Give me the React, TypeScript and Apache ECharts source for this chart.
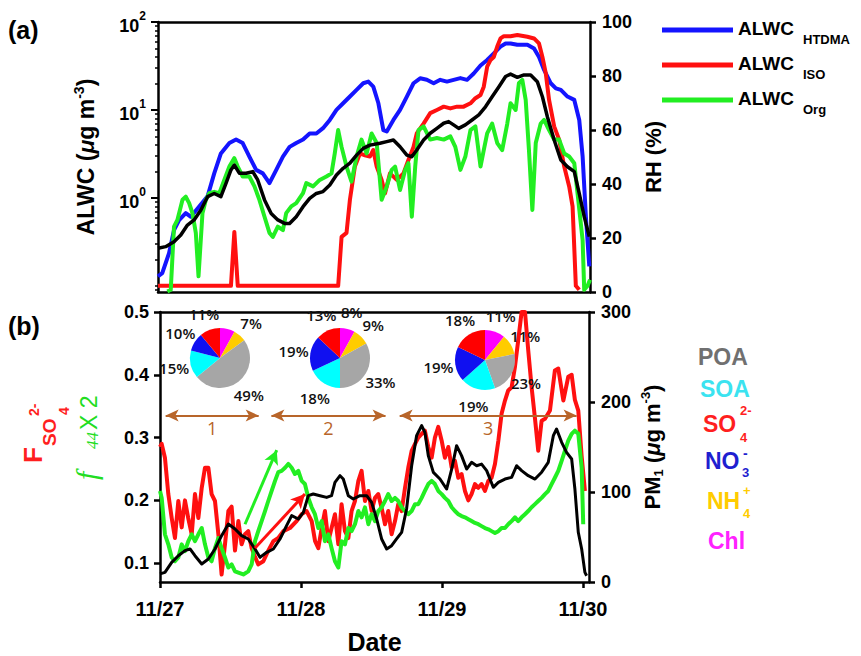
import { useEffect, useRef } from 'react';
import * as echarts from 'echarts';

const FONT = '"Liberation Sans", Arial, sans-serif';
const PIE_FONT = '"Open Sans", "Noto Sans", sans-serif';

// ---- axis ticks / labels ----
const dateTicks = [0, 1, 2, 3];
const dateLabels = ['11/27', '11/28', '11/29', '11/30'];
const logMajorTicks = [1, 10, 100];
const logMinorTicks = [0.09, 0.1, 0.2, 0.3, 0.4, 0.5, 0.6, 0.7, 0.8, 0.9, 2, 3, 4, 5, 6, 7, 8, 9, 20, 30, 40, 50, 60, 70, 80, 90];
const fracTicks = [0.1, 0.2, 0.3, 0.4, 0.5];

// ---- (a) ALWC (ug m-3), x = days since 11/27 00:00 ----
const alwcHtdma = [[0,0.128],[0.03,0.139],[0.078,0.235],[0.113,0.43],[0.149,0.56],[0.196,0.67],[0.232,0.61],[0.291,0.8],[0.35,1.04],[0.397,1.9],[0.444,3.2],[0.504,4.2],[0.551,4.6],[0.598,4.2],[0.645,2.95],[0.693,2.08],[0.74,1.9],[0.787,1.47],[0.835,2.08],[0.882,2.95],[0.929,3.8],[0.976,4.2],[1.024,4.6],[1.071,5.4],[1.118,5.4],[1.165,6.2],[1.213,7.7],[1.26,10],[1.307,11.9],[1.355,14.2],[1.402,16.9],[1.449,20.1],[1.485,21],[1.52,18.4],[1.556,11.9],[1.591,5.9],[1.615,5.7],[1.662,7.7],[1.709,10],[1.757,14.2],[1.804,20.1],[1.851,22.9],[1.898,22],[1.946,20.1],[1.993,22],[2.04,21],[2.087,22],[2.135,23],[2.182,22],[2.229,26],[2.277,32],[2.324,37],[2.371,44],[2.418,52.5],[2.454,57],[2.489,57],[2.537,55],[2.608,55],[2.655,50],[2.69,40],[2.726,28.5],[2.773,20.1],[2.809,17.6],[2.844,16.9],[2.891,14.2],[2.939,13],[2.974,7.7],[2.998,2.95],[3.021,0.61],[3.045,0.166]];
const alwcIso = [[0,0.1],[0.515,0.1],[0.539,0.41],[0.563,0.1],[1.272,0.1],[1.296,0.36],[1.331,0.4],[1.355,0.95],[1.39,2.27],[1.426,3.2],[1.461,3.05],[1.496,2.95],[1.52,3.5],[1.544,2.27],[1.579,1.6],[1.603,1.13],[1.638,1.9],[1.686,1.6],[1.733,1.9],[1.768,2.7],[1.804,3.8],[1.827,5.4],[1.875,7.0],[1.922,9.2],[1.969,10],[2.017,10.9],[2.064,10.4],[2.111,10.9],[2.158,10.9],[2.206,11.9],[2.241,13.6],[2.277,14.8],[2.3,18.4],[2.324,31],[2.348,37],[2.371,40],[2.395,52.5],[2.418,65],[2.442,69],[2.489,69],[2.537,71],[2.608,68],[2.655,65],[2.69,57],[2.714,40],[2.738,26],[2.761,13],[2.797,6.5],[2.832,4.6],[2.868,2.27],[2.903,1.35],[2.927,0.8],[2.95,0.1],[2.974,0.09]];
const alwcOrg = [[0.066,0.086],[0.09,0.09],[0.113,0.47],[0.137,0.56],[0.173,0.95],[0.196,1.03],[0.22,0.87],[0.243,0.67],[0.267,0.4],[0.286,0.128],[0.314,0.67],[0.338,0.95],[0.362,1.13],[0.397,1.17],[0.433,1.13],[0.468,1.6],[0.504,2.27],[0.539,2.83],[0.563,2.27],[0.598,1.75],[0.645,1.75],[0.681,1.35],[0.716,0.95],[0.752,0.61],[0.787,0.4],[0.811,0.36],[0.846,0.47],[0.882,0.43],[0.905,0.67],[0.941,0.8],[0.976,0.87],[1.024,1.13],[1.047,1.47],[1.095,1.35],[1.142,1.6],[1.189,1.75],[1.225,1.9],[1.248,3.2],[1.272,5.9],[1.296,3.8],[1.331,2.27],[1.366,1.53],[1.402,2.95],[1.437,4.6],[1.473,3.2],[1.508,5.4],[1.544,4.2],[1.579,0.95],[1.615,1.35],[1.65,2.08],[1.674,2.27],[1.709,1.23],[1.745,2.08],[1.768,2.48],[1.792,0.61],[1.816,2.27],[1.839,5.9],[1.875,6.5],[1.922,4.6],[1.969,4.8],[2.017,4.6],[2.064,5.0],[2.099,3.8],[2.135,2.08],[2.17,2.95],[2.206,5.9],[2.241,6.5],[2.277,2.27],[2.3,3.5],[2.324,5.4],[2.359,7.0],[2.395,4.2],[2.43,3.5],[2.466,7.0],[2.489,11.9],[2.525,10],[2.548,20.1],[2.572,22],[2.596,13],[2.619,3.5],[2.643,0.73],[2.667,4.2],[2.702,7.0],[2.726,7.7],[2.761,5.9],[2.797,4.6],[2.832,4.6],[2.868,3.2],[2.903,2.95],[2.939,2.48],[2.962,1.13],[2.998,0.33],[3.009,0.09],[3.033,0.1],[3.05,0.117]];
// RH (%)
const rh = [[0,16.2],[0.054,16.8],[0.113,18.6],[0.161,21.1],[0.208,24.8],[0.255,26.7],[0.303,30.4],[0.35,35.3],[0.397,36.5],[0.444,35.3],[0.48,40.2],[0.515,45.2],[0.539,47],[0.574,44],[0.622,44],[0.669,44.6],[0.704,41.5],[0.752,34.1],[0.799,29.1],[0.846,26.7],[0.894,25.4],[0.929,25.4],[0.976,27.9],[1.024,31.6],[1.071,34.7],[1.118,36.5],[1.165,37.2],[1.213,39.6],[1.26,43.3],[1.307,45.8],[1.355,47.7],[1.402,50.7],[1.449,53.2],[1.496,54.4],[1.567,55.1],[1.615,55.7],[1.662,56.3],[1.709,53.8],[1.757,50.7],[1.792,50.1],[1.827,52.6],[1.875,56.3],[1.922,58.8],[1.969,60.6],[2.017,62.5],[2.052,63.1],[2.087,61.9],[2.123,60.6],[2.17,61.9],[2.217,63.7],[2.265,65.6],[2.312,68.6],[2.359,72.3],[2.407,76],[2.454,79.8],[2.489,80.7],[2.537,79.5],[2.584,80.4],[2.631,80.4],[2.678,77.9],[2.714,72.3],[2.749,64.9],[2.797,56.3],[2.844,48.9],[2.891,46.4],[2.939,44.6],[2.974,36.5],[3.009,27.9],[3.045,20.5]];

// ---- (b) ----
const fSO4 = [[0,0.285],[0.012,0.29],[0.035,0.268],[0.059,0.21],[0.083,0.172],[0.106,0.14],[0.13,0.199],[0.154,0.157],[0.177,0.2],[0.2,0.172],[0.225,0.146],[0.248,0.21],[0.272,0.172],[0.296,0.22],[0.319,0.252],[0.343,0.252],[0.366,0.21],[0.39,0.199],[0.414,0.146],[0.437,0.082],[0.461,0.13],[0.485,0.183],[0.508,0.19],[0.532,0.12],[0.556,0.167],[0.579,0.13],[0.603,0.146],[0.626,0.151],[0.65,0.124],[0.674,0.11],[0.697,0.098],[0.733,0.103],[0.768,0.12],[0.804,0.135],[0.839,0.14],[0.875,0.151],[0.922,0.156],[0.969,0.167],[1.005,0.178],[1.04,0.183],[1.076,0.167],[1.1,0.135],[1.123,0.124],[1.147,0.156],[1.17,0.183],[1.194,0.135],[1.217,0.156],[1.241,0.178],[1.265,0.13],[1.288,0.194],[1.312,0.151],[1.336,0.14],[1.359,0.183],[1.383,0.199],[1.407,0.231],[1.43,0.247],[1.454,0.199],[1.478,0.215],[1.501,0.183],[1.525,0.204],[1.548,0.21],[1.572,0.188],[1.596,0.162],[1.619,0.183],[1.643,0.146],[1.667,0.167],[1.69,0.194],[1.714,0.183],[1.738,0.22],[1.761,0.252],[1.785,0.279],[1.809,0.29],[1.832,0.3],[1.856,0.306],[1.879,0.311],[1.903,0.285],[1.927,0.268],[1.95,0.3],[1.974,0.317],[1.998,0.295],[2.021,0.268],[2.045,0.285],[2.069,0.252],[2.092,0.263],[2.116,0.236],[2.139,0.242],[2.163,0.215],[2.187,0.2],[2.21,0.21],[2.234,0.226],[2.258,0.22],[2.281,0.226],[2.305,0.215],[2.329,0.231],[2.352,0.236],[2.376,0.258],[2.4,0.295],[2.423,0.338],[2.447,0.359],[2.47,0.375],[2.494,0.38],[2.518,0.413],[2.541,0.455],[2.565,0.5],[2.589,0.5],[2.612,0.439],[2.636,0.38],[2.66,0.33],[2.683,0.279],[2.707,0.327],[2.731,0.33],[2.766,0.343],[2.801,0.407],[2.825,0.41],[2.861,0.359],[2.896,0.397],[2.92,0.4],[2.943,0.36],[2.967,0.343],[2.991,0.27],[3.014,0.215]];
const f44x2 = [[0,0.215],[0.012,0.204],[0.035,0.146],[0.059,0.13],[0.083,0.109],[0.106,0.103],[0.13,0.109],[0.154,0.13],[0.177,0.119],[0.201,0.135],[0.225,0.146],[0.248,0.135],[0.272,0.146],[0.296,0.156],[0.319,0.13],[0.343,0.109],[0.366,0.103],[0.39,0.124],[0.414,0.14],[0.437,0.124],[0.461,0.109],[0.485,0.093],[0.508,0.098],[0.532,0.087],[0.556,0.085],[0.591,0.082],[0.626,0.087],[0.65,0.098],[0.674,0.135],[0.697,0.151],[0.721,0.167],[0.745,0.183],[0.768,0.199],[0.792,0.215],[0.816,0.231],[0.839,0.245],[0.863,0.247],[0.887,0.252],[0.91,0.258],[0.934,0.252],[0.957,0.242],[0.981,0.247],[1.005,0.231],[1.028,0.226],[1.052,0.204],[1.076,0.189],[1.099,0.178],[1.123,0.156],[1.147,0.167],[1.17,0.135],[1.194,0.146],[1.217,0.124],[1.241,0.103],[1.265,0.093],[1.288,0.135],[1.312,0.13],[1.336,0.156],[1.359,0.151],[1.383,0.162],[1.407,0.183],[1.43,0.173],[1.454,0.189],[1.478,0.162],[1.501,0.178],[1.525,0.167],[1.548,0.183],[1.572,0.189],[1.596,0.199],[1.619,0.21],[1.643,0.199],[1.667,0.204],[1.69,0.199],[1.714,0.189],[1.738,0.183],[1.761,0.178],[1.785,0.183],[1.809,0.194],[1.832,0.194],[1.856,0.204],[1.879,0.215],[1.903,0.226],[1.927,0.231],[1.95,0.226],[1.974,0.215],[1.998,0.21],[2.021,0.204],[2.045,0.199],[2.069,0.189],[2.092,0.183],[2.116,0.178],[2.139,0.175],[2.163,0.173],[2.187,0.17],[2.21,0.167],[2.234,0.164],[2.258,0.162],[2.281,0.159],[2.305,0.156],[2.329,0.154],[2.352,0.151],[2.376,0.148],[2.4,0.151],[2.423,0.156],[2.447,0.156],[2.47,0.162],[2.494,0.167],[2.518,0.173],[2.541,0.167],[2.565,0.173],[2.589,0.178],[2.612,0.183],[2.636,0.189],[2.66,0.194],[2.683,0.199],[2.707,0.204],[2.731,0.21],[2.754,0.215],[2.778,0.226],[2.801,0.236],[2.825,0.247],[2.849,0.263],[2.872,0.279],[2.896,0.295],[2.92,0.306],[2.943,0.311],[2.967,0.306],[2.991,0.252],[3.002,0.162]];
const pm1 = [[0,9],[0.035,10.7],[0.083,21.8],[0.13,29.2],[0.177,34.8],[0.213,36.7],[0.248,29.2],[0.296,20],[0.343,25.5],[0.39,36.7],[0.437,51.5],[0.485,64.4],[0.532,58.9],[0.579,51.5],[0.626,47.8],[0.674,36.7],[0.709,27.4],[0.757,33],[0.804,36.7],[0.851,47.8],[0.898,62.6],[0.934,73.7],[0.981,70],[1.017,77.4],[1.052,95.9],[1.087,97.8],[1.135,95.9],[1.182,94],[1.217,95.9],[1.241,110.7],[1.277,118.1],[1.3,114.4],[1.336,95.9],[1.371,92.2],[1.418,95.9],[1.466,95.9],[1.501,88.5],[1.537,70],[1.572,47.8],[1.608,36.7],[1.643,40.4],[1.678,47.8],[1.714,55.2],[1.749,81.1],[1.785,129.2],[1.82,162.6],[1.856,173.7],[1.879,166.3],[1.903,140.4],[1.939,121.8],[1.986,114.4],[2.033,103.3],[2.069,125.5],[2.104,151.5],[2.139,140.4],[2.175,125.5],[2.21,133],[2.246,129.2],[2.281,131],[2.317,123.7],[2.364,105.2],[2.4,110.7],[2.447,114.4],[2.494,116.3],[2.53,129.2],[2.565,123.7],[2.612,118.1],[2.66,114.4],[2.707,122],[2.754,133],[2.79,162.6],[2.813,170],[2.849,155.2],[2.884,144],[2.92,136.7],[2.943,103.3],[2.967,55.2],[2.991,36.7],[3.014,10.7],[3.026,7]];

// periods (days) and trend arrows
const periodNames = ['1', '2', '3'];
const periodStart = [0.04, 0.79, 1.7];
const periodEnd = [0.7, 1.6, 2.955];
const periodLevel = 0.335;
const greenArrow = [[0.603, 0.162], [0.828, 0.28]];
const redArrow = [[0.674, 0.124], [1.028, 0.21]];

// PM1 composition pies (%), clockwise from 12 o'clock
const pieNames = ['Chl', 'NH4', 'POA', 'SOA', 'NO3', 'SO4'];
const pieColors = ['#ff00ff', '#ffcc00', '#a6a6a6', '#00ffff', '#1010f0', '#ff0000'];
const pie1 = [8, 7, 49, 15, 10, 11];
const pie2 = [8, 9, 33, 18, 19, 13];
const pie3 = [11, 11, 23, 19, 19, 18];
const pieCenters = [[220, 358], [340, 358], [485, 360]];

// legend of panel (a)
const legendSeries = ['ALWC_HTDMA', 'ALWC_ISO', 'ALWC_Org'];
const legendSubs = ['HTDMA', 'ISO', 'Org'];

const BROWN = '#b8652a';
const BLUE = '#1414ff';
const RED = '#ff1010';
const GREEN = '#22ee22';
const legendColors = [BLUE, RED, GREEN];

const lineAx = { show: true, onZero: false, lineStyle: { color: '#000', width: 2.5 } };
const tickLbl = { color: '#000', fontSize: 18, fontWeight: 'bold', fontFamily: FONT };

function boxAxis(grid: number, pos: string, max: number) {
  return {
    gridIndex: grid, type: 'value', min: 0, max, position: pos,
    axisLine: lineAx, axisTick: { show: false }, axisLabel: { show: false }, splitLine: { show: false },
  };
}

function txt(x: number, y: number, text: string, size: number, fill: string, extra: any = {}) {
  return {
    type: 'text', x, y, silent: true,
    style: { text, fill, fontSize: size, fontWeight: 'bold', fontFamily: FONT, align: 'left', verticalAlign: 'middle', ...extra },
  };
}

function pieSeries(vals: number[], c: number[]) {
  const data = pieNames.map((n, i) => ({ name: n, value: vals[i], itemStyle: { color: pieColors[i] } }));
  return [
    {
      type: 'pie', center: c, radius: 88, startAngle: 90, clockwise: true, silent: true, z: 4,
      itemStyle: { color: 'rgba(0,0,0,0)' },
      label: { show: true, position: 'inside', formatter: '{c}%', color: '#111', fontSize: 15, fontWeight: 600, fontFamily: PIE_FONT },
      labelLine: { show: false }, emphasis: { disabled: true },
      data: pieNames.map((n, i) => ({ name: n, value: vals[i], itemStyle: { color: 'rgba(0,0,0,0)' } })),
    },
    {
      type: 'pie', center: c, radius: 30, startAngle: 90, clockwise: true, silent: true, z: 5,
      label: { show: false }, labelLine: { show: false }, emphasis: { disabled: true }, data,
    },
  ];
}

function legendGraphics() {
  const out: any[] = [];
  legendSeries.forEach((_, i) => {
    const y = 30 + i * 35;
    out.push({ type: 'line', silent: true, shape: { x1: 662, y1: y, x2: 733, y2: y }, style: { stroke: legendColors[i], lineWidth: 5 } });
    out.push(txt(738, y - 2, 'ALWC', 19, '#000'));
    out.push(txt(803, y + 9, legendSubs[i], 13, '#000'));
  });
  return out;
}

const option: any = {
  animation: false,
  textStyle: { fontFamily: FONT },
  grid: [
    { left: 158, top: 22, width: 432, height: 270 },
    { left: 160, top: 312, width: 429, height: 270 },
  ],
  xAxis: [
    boxAxis(0, 'bottom', 3.05),
    boxAxis(0, 'top', 3.05),
    {
      gridIndex: 1, type: 'value', min: 0, max: 3.043, position: 'bottom',
      axisLine: lineAx,
      axisTick: { show: true, customValues: dateTicks, length: 6, lineStyle: { color: '#000', width: 2.5 } },
      axisLabel: {
        customValues: dateTicks, margin: 17, color: '#000', fontSize: 20, fontWeight: 'bold', fontFamily: FONT,
        formatter: (v: number) => dateLabels[dateTicks.indexOf(Math.round(v))],
      },
      splitLine: { show: false },
      name: 'Date', nameLocation: 'middle', nameGap: 47,
      nameTextStyle: { color: '#000', fontSize: 25, fontWeight: 'bold', fontFamily: FONT },
    },
    boxAxis(1, 'top', 3.043),
  ],
  yAxis: [
    {
      gridIndex: 0, type: 'log', logBase: 10, min: 0.085, max: 100, position: 'left',
      axisLine: lineAx,
      axisTick: { show: true, customValues: logMajorTicks, length: 7, lineStyle: { color: '#000', width: 2 } },
      axisLabel: {
        customValues: logMajorTicks, margin: 12,
        formatter: (v: number) => `{b|10}{s|${Math.round(Math.log10(v))}}`,
        rich: {
          b: { fontSize: 18, fontWeight: 'bold', color: '#000', fontFamily: FONT, padding: [8, 0, 0, 0] },
          s: { fontSize: 12, fontWeight: 'bold', color: '#000', fontFamily: FONT, padding: [0, 0, 12, 0] },
        },
      },
      splitLine: { show: false },
      name: '{t|ALWC (}{mu|μ}{t|g m}{sup|-3}{t|)}', nameLocation: 'middle', nameRotate: 90, nameGap: 58,
      nameTextStyle: {
        rich: {
          t: { fontSize: 23, fontWeight: 'bold', color: '#000', fontFamily: FONT },
          mu: { fontSize: 23, fontWeight: 'bold', fontStyle: 'italic', color: '#000', fontFamily: FONT },
          sup: { fontSize: 14, fontWeight: 'bold', color: '#000', fontFamily: FONT, padding: [0, 0, 14, 0] },
        },
      },
    },
    {
      gridIndex: 0, type: 'log', logBase: 10, min: 0.085, max: 100, position: 'left',
      axisLine: { show: false },
      axisTick: { show: true, customValues: logMinorTicks, length: 3, lineStyle: { color: '#000', width: 1.5 } },
      axisLabel: { show: false }, splitLine: { show: false },
    },
    {
      gridIndex: 0, type: 'value', min: 0, max: 100, interval: 20, position: 'right',
      axisLine: lineAx,
      axisTick: { show: true, length: 6, lineStyle: { color: '#000', width: 2.5 } },
      axisLabel: { ...tickLbl, margin: 12 },
      splitLine: { show: false },
      name: 'RH (%)', nameLocation: 'middle', nameRotate: 90, nameGap: 41,
      nameTextStyle: { color: '#000', fontSize: 22, fontWeight: 'bold', fontFamily: FONT },
    },
    {
      gridIndex: 1, type: 'value', min: 0.07, max: 0.5, position: 'left',
      axisLine: lineAx,
      axisTick: { show: true, customValues: fracTicks, length: 6, lineStyle: { color: '#000', width: 2.5 } },
      axisLabel: { ...tickLbl, customValues: fracTicks, margin: 11, formatter: (v: number) => v.toFixed(1) },
      splitLine: { show: false },
    },
    {
      gridIndex: 1, type: 'value', min: 0, max: 300, interval: 100, position: 'right',
      axisLine: lineAx,
      axisTick: { show: true, length: 6, lineStyle: { color: '#000', width: 2.5 } },
      axisLabel: { ...tickLbl, margin: 12 },
      splitLine: { show: false },
      name: '{t|PM}{sub|1}{t| (}{mu|μ}{t|g m}{sup|-3}{t|)}', nameLocation: 'middle', nameRotate: 90, nameGap: 50,
      nameTextStyle: {
        rich: {
          t: { fontSize: 22, fontWeight: 'bold', color: '#000', fontFamily: FONT },
          mu: { fontSize: 22, fontWeight: 'bold', fontStyle: 'italic', color: '#000', fontFamily: FONT },
          sub: { fontSize: 13, fontWeight: 'bold', color: '#000', fontFamily: FONT, padding: [12, 0, 0, 0] },
          sup: { fontSize: 13, fontWeight: 'bold', color: '#000', fontFamily: FONT, padding: [0, 0, 14, 0] },
        },
      },
    },
  ],
  series: [
    { type: 'line', name: legendSeries[0], xAxisIndex: 0, yAxisIndex: 0, data: alwcHtdma, symbol: 'none', color: BLUE, lineStyle: { width: 4, join: 'round' }, z: 3 },
    { type: 'line', name: legendSeries[1], xAxisIndex: 0, yAxisIndex: 0, data: alwcIso, symbol: 'none', color: RED, lineStyle: { width: 4, join: 'round' }, z: 3 },
    { type: 'line', name: legendSeries[2], xAxisIndex: 0, yAxisIndex: 0, data: alwcOrg, symbol: 'none', color: GREEN, lineStyle: { width: 4, join: 'round' }, z: 3 },
    { type: 'line', name: 'RH', xAxisIndex: 0, yAxisIndex: 2, data: rh, symbol: 'none', color: '#000', lineStyle: { width: 3.5, join: 'round' }, z: 3 },
    {
      type: 'line', name: 'periods', xAxisIndex: 2, yAxisIndex: 3, data: [], symbol: 'none', z: 1, silent: true,
      markLine: {
        silent: true, symbol: ['arrow', 'arrow'], symbolSize: [9, 13],
        lineStyle: { color: BROWN, width: 2, type: 'solid' },
        label: { show: true, position: 'insideMiddleBottom', formatter: (p: any) => p.name, color: BROWN, fontSize: 18, fontFamily: PIE_FONT, distance: 3 },
        emphasis: { disabled: true },
        data: periodNames.map((n, i) => [
          { name: n, coord: [periodStart[i], periodLevel] },
          { name: n, coord: [periodEnd[i], periodLevel] },
        ]),
      },
    },
    { type: 'line', name: 'Fso4', xAxisIndex: 2, yAxisIndex: 3, data: fSO4, symbol: 'none', color: RED, lineStyle: { width: 4, join: 'round' }, z: 2 },
    { type: 'line', name: 'f44', xAxisIndex: 2, yAxisIndex: 3, data: f44x2, symbol: 'none', color: GREEN, lineStyle: { width: 4, join: 'round' }, z: 2 },
    { type: 'line', name: 'PM1', xAxisIndex: 2, yAxisIndex: 4, data: pm1, symbol: 'none', color: '#000', lineStyle: { width: 3, join: 'round' }, z: 3 },
    {
      type: 'line', name: 'trends', xAxisIndex: 2, yAxisIndex: 3, data: [], symbol: 'none', z: 4, silent: true,
      markLine: {
        silent: true, symbol: ['none', 'arrow'], symbolSize: [11, 14], label: { show: false }, emphasis: { disabled: true },
        data: [
          [{ coord: greenArrow[0], lineStyle: { color: GREEN, width: 3, type: 'solid' }, itemStyle: { color: GREEN } }, { coord: greenArrow[1] }],
          [{ coord: redArrow[0], lineStyle: { color: RED, width: 3, type: 'solid' }, itemStyle: { color: RED } }, { coord: redArrow[1] }],
        ],
      },
    },
    ...pieSeries(pie1, pieCenters[0]),
    ...pieSeries(pie2, pieCenters[1]),
    ...pieSeries(pie3, pieCenters[2]),
  ],
  graphic: [
    txt(8, 30, '(a)', 25, '#000'),
    txt(8, 326, '(b)', 25, '#000'),
    ...legendGraphics(),
    // composition colour key
    txt(698, 357, 'POA', 23, '#707070'),
    txt(700, 389, 'SOA', 23, '#3be3f0'),
    txt(703, 424, 'SO', 23, '#ff1f1f'),
    txt(740, 410, '2-', 13, '#ff1f1f'),
    txt(740, 437, '4', 13, '#ff1f1f'),
    txt(705, 461, 'NO', 23, '#1f1fd0'),
    txt(743, 453, '-', 14, '#1f1fd0'),
    txt(742, 472, '3', 13, '#1f1fd0'),
    txt(707, 501, 'NH', 23, '#ffcc00'),
    txt(743, 490, '+', 13, '#ffcc00'),
    txt(743, 513, '4', 13, '#ffcc00'),
    txt(708, 541, 'Chl', 23, '#ff22ff'),
    // left axis titles of (b)
    {
      type: 'group', x: 33, y: 463, rotation: Math.PI / 2, silent: true,
      children: [
        txt(0, 0, 'F', 26, '#ff1f1f'),
        txt(17, 16, 'SO', 19, '#ff1f1f'),
        txt(47, 1, '2-', 14, '#ff1f1f'),
        txt(48, 31, '4', 14, '#ff1f1f'),
      ],
    },
    {
      type: 'group', x: 88, y: 480, rotation: Math.PI / 2, silent: true,
      children: [
        txt(0, -2, 'f', 30, '#22dd22', { fontStyle: 'italic', fontWeight: 'normal', fontFamily: '"Liberation Serif", serif' }),
        txt(31, 4, '44', 17, '#22dd22', { fontStyle: 'italic', fontWeight: 'normal', fontFamily: '"Liberation Serif", serif' }),
        txt(50, 1, 'X 2', 23, '#22dd22', { fontWeight: 'normal' }),
      ],
    },
  ],
};

export default function App() {
  const ref = useRef<HTMLDivElement>(null);
  useEffect(() => {
    if (!ref.current) return;
    const chart = echarts.init(ref.current, undefined, { renderer: 'svg' });
    chart.setOption(option);
    return () => chart.dispose();
  }, []);
  return (
    <div
      ref={ref}
      style={{ position: 'fixed', left: 0, top: 0, width: 861, height: 656, background: '#fff' }}
    />
  );
}
